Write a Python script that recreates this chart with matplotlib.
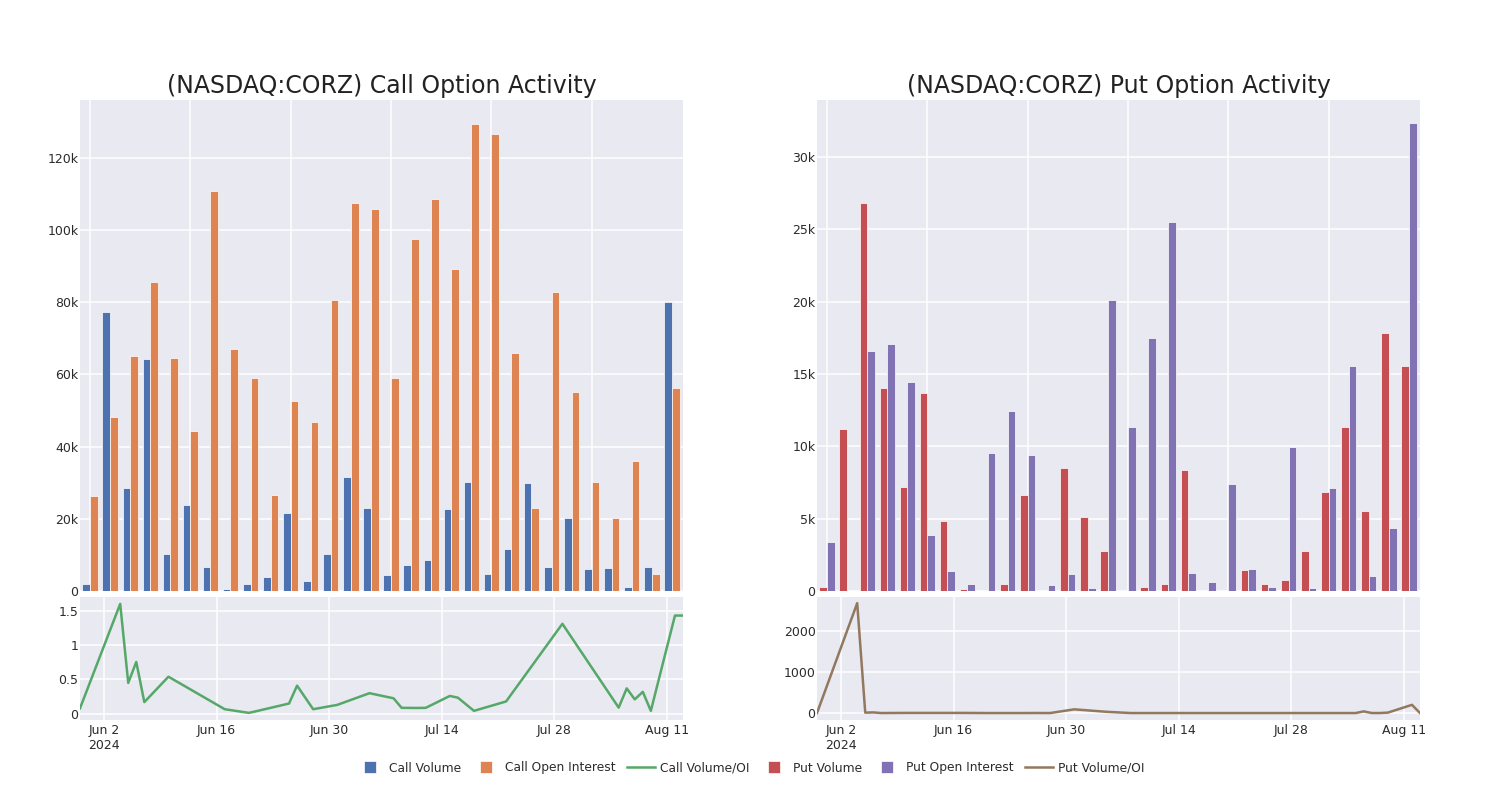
import matplotlib
matplotlib.use("Agg")
import matplotlib.pyplot as plt
from matplotlib.lines import Line2D
import numpy as np
import pandas as pd

# ---------------- data ----------------
dates = ["2024-05-30", "2024-06-04", "2024-06-05", "2024-06-06", "2024-06-07",
         "2024-06-10", "2024-06-17", "2024-06-20", "2024-06-21", "2024-06-25",
         "2024-06-26", "2024-06-28", "2024-07-01", "2024-07-05", "2024-07-08",
         "2024-07-09", "2024-07-11", "2024-07-12", "2024-07-15", "2024-07-16",
         "2024-07-18", "2024-07-22", "2024-07-29", "2024-08-05", "2024-08-06",
         "2024-08-07", "2024-08-08", "2024-08-09", "2024-08-12", "2024-08-13"]

call_volume = [1850, 77300, 28400, 64300, 10200, 23900, 6750, 550, 1850, 3800,
               21700, 2900, 10200, 31700, 23100, 4350, 7300, 8700, 22800, 30200,
               4700, 11600, 30000, 6700, 20100, 6100, 6300, 1100, 6700, 80100]
call_oi = [26200, 48100, 65100, 85500, 64600, 44300, 110700, 67000, 59100, 26500,
           52700, 46700, 80700, 107600, 105800, 59100, 97400, 108600, 89100, 129400,
           126600, 66000, 22900, 82800, 55100, 30200, 20200, 36000, 4700, 56100]
call_ratio = [0.08, 1.60, 0.45, 0.755, 0.17, 0.54, 0.067, 0.014, 0.04, 0.15,
              0.41, 0.067, 0.13, 0.30, 0.226, 0.087, 0.085, 0.087, 0.26, 0.235,
              0.043, 0.18, 1.31, 0.09, 0.37, 0.21, 0.32, 0.043, 1.43, 1.43]

put_volume = [300, 11230, 26800, 14030, 7170, 13680, 4810, 140, 20, 460,
              6660, 0, 8500, 5130, 2770, 20, 280, 500, 8400, 0,
              20, 1480, 460, 740, 2770, 6870, 11370, 5520, 17820, 15560]
put_oi = [3420, 4, 16570, 17060, 14420, 3840, 1390, 460, 9520, 12480,
          9410, 390, 1200, 180, 20130, 11350, 17500, 25500, 1270, 650,
          7420, 1550, 250, 9940, 230, 7100, 15560, 1040, 4370, 32340]
put_ratio = [0, 2680, 10, 15, 0, 3, 3, 0, 0, 0,
             1, 0, 90, 30, 0, 0, 0, 0, 0, 0,
             0, 0, 0, 0, 40, 0, 0, 10, 200, 0]

call_ticks = [0, 20000, 40000, 60000, 80000, 100000, 120000]
call_tick_labels = ["0", "20k", "40k", "60k", "80k", "100k", "120k"]
put_ticks = [0, 5000, 10000, 15000, 20000, 25000, 30000]
put_tick_labels = ["0", "5k", "10k", "15k", "20k", "25k", "30k"]
call_ratio_ticks = [0, 0.5, 1, 1.5]
call_ratio_labels = ["0", "0.5", "1", "1.5"]
put_ratio_ticks = [0, 1000, 2000]
put_ratio_labels = ["0", "1000", "2000"]
date_ticks = ["2024-06-02", "2024-06-16", "2024-06-30", "2024-07-14", "2024-07-28", "2024-08-11"]
date_tick_labels = ["Jun 2\n2024", "Jun 16", "Jun 30", "Jul 14", "Jul 28", "Aug 11"]

# ---------------- style ----------------
BG = "#e9e9f1"
TXT = "#2b2b2b"
C_BLUE, C_ORANGE, C_GREEN = "#4c72b0", "#dd8452", "#55a868"
C_RED, C_PURPLE, C_BROWN = "#c44e52", "#8172b3", "#937860"

plt.rcParams["font.family"] = ["DejaVu Sans"]

fig = plt.figure(figsize=(15, 8), dpi=100)
fig.patch.set_facecolor("white")

d = pd.to_datetime(dates)
dt_ticks = pd.to_datetime(date_ticks)
x_idx = np.arange(len(dates))


def style_ax(ax):
    ax.set_facecolor(BG)
    for s in ax.spines.values():
        s.set_visible(False)
    ax.grid(True, color="white", linewidth=1.1)
    ax.set_axisbelow(True)
    ax.tick_params(length=0, labelsize=9, colors=TXT)
    ax.tick_params(axis="y", pad=1)
    ax.tick_params(axis="x", pad=3)


def bar_panel(rect, v1, v2, c1, c2, ticks, labels, ylim, title):
    ax = fig.add_axes(rect)
    style_ax(ax)
    w = 0.38
    ax.bar(x_idx - w / 2, v1, width=w, color=c1, edgecolor="white", linewidth=0.5)
    ax.bar(x_idx + w / 2, v2, width=w, color=c2, edgecolor="white", linewidth=0.5)
    ax.set_xlim(-0.5, 29.55)
    ax.set_ylim(*ylim)
    ax.set_xticks([0, 5, 10, 15, 20, 25])
    ax.set_xticklabels([])
    ax.set_yticks(ticks)
    ax.set_yticklabels(labels)
    ax.set_title(title, fontsize=17, color="#222222", pad=5)
    return ax


def line_panel(rect, vals, color, ticks, labels, ylim):
    ax = fig.add_axes(rect)
    style_ax(ax)
    ax.plot(d, vals, color=color, linewidth=1.8)
    ax.set_xlim(pd.Timestamp("2024-05-30"), pd.Timestamp("2024-08-13"))
    ax.set_ylim(*ylim)
    ax.set_xticks(dt_ticks)
    ax.set_xticklabels(date_tick_labels)
    for lab in ax.get_xticklabels():
        lab.set_horizontalalignment("center")
    ax.set_yticks(ticks)
    ax.set_yticklabels(labels)
    return ax


W = 0.402
bar_h_bottom = 1 - 591 / 800
bar_h = (591 - 100) / 800
line_bottom = 1 - 720 / 800
line_h = (720 - 597) / 800

bar_panel([80 / 1500, bar_h_bottom, W, bar_h], call_volume, call_oi, C_BLUE, C_ORANGE,
          call_ticks, call_tick_labels, (0, 136000), "(NASDAQ:CORZ) Call Option Activity")
bar_panel([817 / 1500, bar_h_bottom, W, bar_h], put_volume, put_oi, C_RED, C_PURPLE,
          put_ticks, put_tick_labels, (0, 33950), "(NASDAQ:CORZ) Put Option Activity")

line_panel([80 / 1500, line_bottom, W, line_h], call_ratio, C_GREEN,
           call_ratio_ticks, call_ratio_labels, (-0.09, 1.70))
line_panel([817 / 1500, line_bottom, W, line_h], put_ratio, C_BROWN,
           put_ratio_ticks, put_ratio_labels, (-170, 2830))


def sq(color, label):
    return Line2D([0], [0], linestyle="none", marker="s", markersize=9,
                  markerfacecolor=color, markeredgecolor="white", markeredgewidth=0.5,
                  label=label)


handles = [
    sq(C_BLUE, "Call Volume"),
    sq(C_ORANGE, "Call Open Interest"),
    Line2D([0], [0], color=C_GREEN, lw=1.8, label="Call Volume/OI"),
    sq(C_RED, "Put Volume"),
    sq(C_PURPLE, "Put Open Interest"),
    Line2D([0], [0], color=C_BROWN, lw=1.8, label="Put Volume/OI"),
]
leg = fig.legend(handles=handles, loc="center", bbox_to_anchor=(0.5, 1 - 768 / 800),
                 ncol=6, frameon=False, fontsize=8.8, handlelength=2.3,
                 handletextpad=0.4, columnspacing=0.9)
for t in leg.get_texts():
    t.set_color(TXT)

fig.savefig("out.png", dpi=100, facecolor="white")
